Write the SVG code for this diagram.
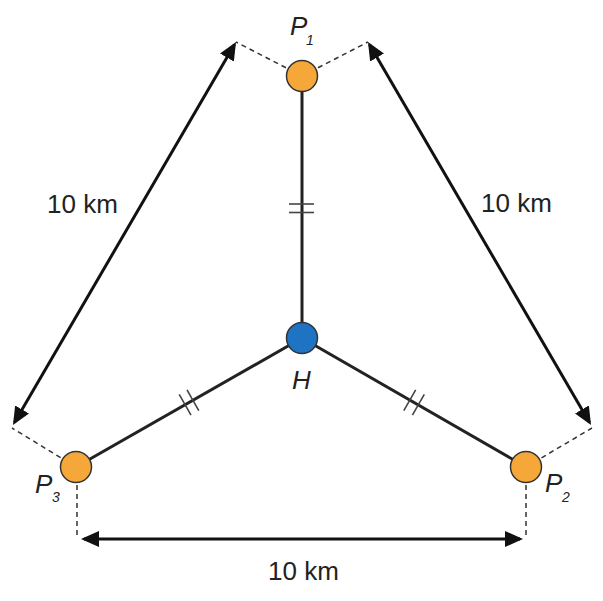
<svg xmlns="http://www.w3.org/2000/svg" width="603" height="601" viewBox="0 0 603 601">
<style>
.edge{stroke:#222;stroke-width:3;fill:none}
.dash{stroke:#333;stroke-width:1.5;stroke-dasharray:5 4;fill:none}
.tick{stroke:#444;stroke-width:1.6;fill:none}
.dim{stroke:#111;stroke-width:3;fill:none;marker-start:url(#ah);marker-end:url(#ah)}
.pt{fill:#F6A73A;stroke:#333;stroke-width:1.5}
.hub{fill:#1E73C2;stroke:#333;stroke-width:1.5}
.lbl{font-family:"Liberation Sans",Arial,sans-serif;font-size:26px;fill:#222}
.it{font-family:"Liberation Sans",Arial,sans-serif;font-style:italic;fill:#222}
</style>
<defs>
<marker id="ah" markerUnits="userSpaceOnUse" markerWidth="20" markerHeight="17" refX="15" refY="8" orient="auto-start-reverse" viewBox="0 0 20 16">
<path d="M0,0 L18,8 L0,16 z" fill="#111"/>
</marker>
</defs>
<rect width="603" height="601" fill="#fff"/>
<g id="connectors">
<line class="dash" x1="302" y1="76" x2="236" y2="42"/>
<line class="dash" x1="302" y1="76" x2="368" y2="42"/>
<line class="dash" x1="76" y1="467" x2="12" y2="428"/>
<line class="dash" x1="77" y1="467" x2="77" y2="539"/>
<line class="dash" x1="526" y1="467" x2="592" y2="428"/>
<line class="dash" x1="526" y1="467" x2="526" y2="539"/>
<line class="edge" x1="302" y1="76" x2="302" y2="338"/>
<line class="edge" x1="302" y1="338" x2="76" y2="467"/>
<line class="edge" x1="302" y1="338" x2="526" y2="467"/>
<line class="tick" x1="289" y1="204" x2="314" y2="204"/>
<line class="tick" x1="289" y1="212.5" x2="314" y2="212.5"/>
<line class="tick" x1="179.2" y1="394.3" x2="191" y2="415.1"/>
<line class="tick" x1="187" y1="389.9" x2="198.8" y2="410.7"/>
<line class="tick" x1="415.7" y1="389.9" x2="403.8" y2="410.7"/>
<line class="tick" x1="424.3" y1="394.3" x2="412.4" y2="415.1"/>
<line class="dim" x1="234.5" y1="44.6" x2="14.5" y2="422.4"/>
<line class="dim" x1="369.5" y1="44.6" x2="589.5" y2="422.4"/>
<line class="dim" x1="84" y1="539" x2="520" y2="539"/>
</g>
<g id="P1">
<circle class="pt" cx="302" cy="76" r="15.5"/>
<text class="it" x="290" y="35" font-size="26">P</text>
<text class="it" x="306" y="45" font-size="14">1</text>
</g>
<g id="H">
<circle class="hub" cx="302" cy="338" r="15.5"/>
<text class="it" x="292" y="389" font-size="26">H</text>
</g>
<g id="P3">
<circle class="pt" cx="76" cy="467" r="15.5"/>
<text class="it" x="35" y="493" font-size="26">P</text>
<text class="it" x="52" y="502" font-size="14">3</text>
</g>
<g id="P2">
<circle class="pt" cx="526" cy="467" r="15.5"/>
<text class="it" x="545" y="492" font-size="26">P</text>
<text class="it" x="562" y="502" font-size="14">2</text>
</g>
<g id="labels">
<text class="lbl" x="47" y="213">10 km</text>
<text class="lbl" x="481" y="212">10 km</text>
<text class="lbl" x="268" y="580">10 km</text>
</g>
</svg>
